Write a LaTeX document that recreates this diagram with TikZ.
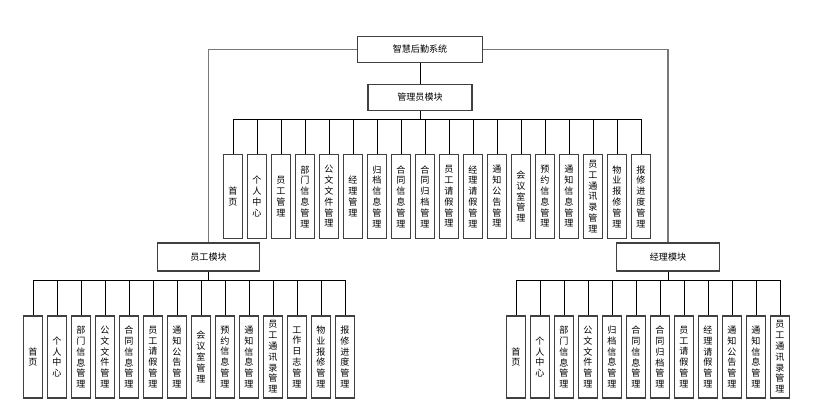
\documentclass[tikz,border=0pt]{standalone}
\usepackage{fontspec}
\setmainfont{Noto Sans CJK SC}
\XeTeXlinebreaklocale "zh"
\XeTeXlinebreakskip=0pt plus 1pt
\usepackage{tikz}
\usetikzlibrary{positioning,calc}
\definecolor{boxline}{RGB}{64,64,64}
\definecolor{trunkgray}{RGB}{120,120,120}

\begin{document}
\begin{tikzpicture}[x=0.75pt, y=-0.75pt,
    modbox/.style={draw=boxline, line width=0.9pt, fill=white, rectangle,
        font=\fontsize{6.8}{8}\selectfont},
    leafbox/.style={draw=boxline, line width=0.9pt, fill=white, rectangle,
        minimum width=14pt, text width=7pt, inner sep=0pt, align=center,
        font=\fontsize{6.8}{8.1}\selectfont},
    link/.style={draw=black, line width=0.75pt},
    trunk/.style={draw=trunkgray, line width=1pt}]
    \useasboundingbox (0,0) rectangle (840,413);

    % Top levels
    \node[modbox, minimum width=94pt, minimum height=20pt] (sys) at (420,49.5) {智慧后勤系统};
    \node[modbox, minimum width=78pt, minimum height=19.5pt] (admin) at (420,97.5) {管理员模块};
    \node[modbox, minimum width=77pt, minimum height=21pt] (staff) at (208.5,257) {员工模块};
    \node[modbox, minimum width=77pt, minimum height=21pt] (mgr) at (668,257) {经理模块};

    % Trunk lines to the modules
    \draw[trunk] (sys.west) -| (staff.north);
    \draw[trunk] (sys.east) -| (mgr.north);
    \draw[link] (sys) -- (admin);

    % Admin module
    \coordinate (abus) at (420,120);
    \draw[link] (admin) -- (abus);
    \foreach \name [count=\i from 0] in {首页, 个人中心, 员工管理, 部门信息管理, 公文文件管理, 经理管理,
        归档信息管理, 合同信息管理, 合同归档管理, 员工请假管理, 经理请假管理, 通知公告管理,
        会议室管理, 预约信息管理, 通知信息管理, 员工通讯录管理, 物业报修管理, 报修进度管理} {
        \node[leafbox, minimum height=62.5pt] (a\i) at (233+24*\i,196.5) {\name};
        \draw[link] (abus) -| (a\i.north);
    }

    % Staff module
    \coordinate (sbus) at (208.5,281);
    \draw[link] (staff) -- (sbus);
    \foreach \name [count=\i from 0] in {首页, 个人中心, 部门信息管理, 公文文件管理, 合同信息管理,
        员工请假管理, 通知公告管理, 会议室管理, 预约信息管理, 通知信息管理, 员工通讯录管理,
        工作日志管理, 物业报修管理, 报修进度管理} {
        \node[leafbox, minimum height=61.5pt] (s\i) at (33+24*\i,357) {\name};
        \draw[link] (sbus) -| (s\i.north);
    }

    % Manager module
    \coordinate (mbus) at (668,281);
    \draw[link] (mgr) -- (mbus);
    \foreach \name [count=\i from 0] in {首页, 个人中心, 部门信息管理, 公文文件管理, 归档信息管理,
        合同信息管理, 合同归档管理, 员工请假管理, 经理请假管理, 通知公告管理, 通知信息管理,
        员工通讯录管理} {
        \node[leafbox, minimum height=61.5pt] (m\i) at (516+24*\i,357) {\name};
        \draw[link] (mbus) -| (m\i.north);
    }
\end{tikzpicture}
\end{document}
